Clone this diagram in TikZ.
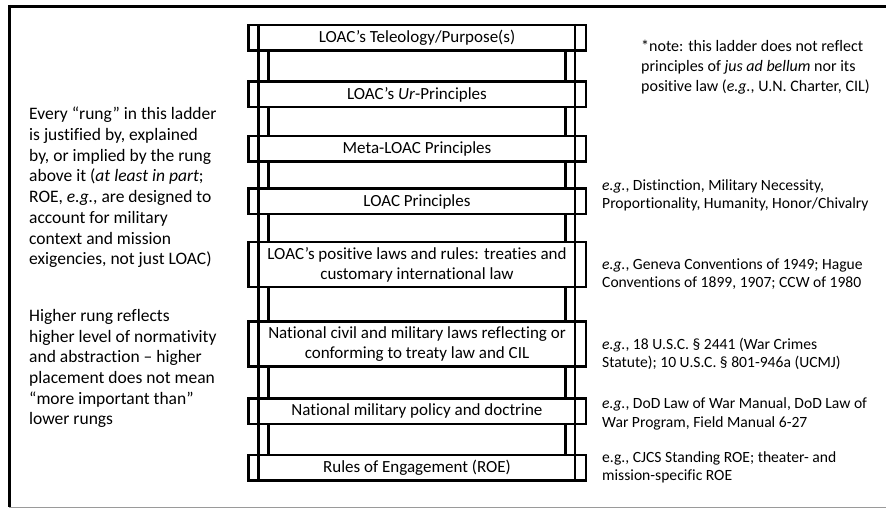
\documentclass[tikz,border=0pt]{standalone}
\usepackage{fontspec}
\setmainfont{Carlito}[Ligatures=NoCommon]
\usepackage{xcolor}
\definecolor{frame-gray}{HTML}{9A9A9A}

\begin{document}
\begin{tikzpicture}[x=1pt, y=-1pt,
    rung/.style={draw, line width=2.5pt, fill=white, minimum width=337.5pt,
        minimum height=25.5pt, inner sep=0pt, align=center,
        font=\fontsize{17}{20}\selectfont},
    tallrung/.style={rung, minimum height=45pt},
    rail/.style={line width=2.5pt},
    side/.style={inner sep=0pt, anchor=west, align=left,
        font=\fontsize{17.5}{20.7}\selectfont},
    example/.style={inner sep=0pt, anchor=west, align=left,
        font=\fontsize{15.6}{18.3}\selectfont}]
  \useasboundingbox (0,0) rectangle (886,510);
  % frame
  \draw[line width=3pt] (9,6.5) -- (886,6.5);
  \draw[line width=3pt] (9,5) -- (9,507);
  \draw[frame-gray, line width=1.5pt] (9,507.5) -- (886,507.5);
  % rungs, top to bottom
  \node[rung] (telos) at (417,38) {LOAC’s Teleology/Purpose(s)};
  \node[rung] (ur) at (417,94.5) {LOAC’s \textit{Ur}-Principles};
  \node[rung] (meta) at (417,149) {Meta-LOAC Principles};
  \node[rung] (princ) at (417,201.5) {LOAC Principles};
  \node[tallrung] (posit) at (417,264.5) {LOAC’s positive laws and rules: treaties and\\customary international law};
  \node[tallrung] (natl) at (417,344) {National civil and military laws reflecting or\\conforming to treaty law and CIL};
  \node[rung] (policy) at (417,411) {National military policy and doctrine};
  \node[rung] (roe) at (417,467.5) {Rules of Engagement (ROE)};
  % inner rails, only between rungs
  \foreach \a/\b in {telos/ur, ur/meta, meta/princ, princ/posit,
                     posit/natl, natl/policy, policy/roe}{
    \draw[rail] ([xshift=21.5pt]\a.south west) -- ([xshift=21.5pt]\b.north west);
    \draw[rail] ([xshift=-21.5pt]\a.south east) -- ([xshift=-21.5pt]\b.north east);
  }
  % outer rails, through every rung
  \draw[rail] ([xshift=11.5pt]telos.north west) -- ([xshift=11.5pt]roe.south west);
  \draw[rail] ([xshift=-12pt]telos.north east) -- ([xshift=-12pt]roe.south east);
  % left remarks
  \node[side] (why) at (29,187.5) {Every “rung” in this ladder\\is justified by, explained\\by, or implied by the rung\\above it (\textit{at least in part};\\ROE, \textit{e.g.}, are designed to\\account for military\\context and mission\\exigencies, not just LOAC)};
  \node[side] (rank) at (29,368.5) {Higher rung reflects\\higher level of normativity\\and abstraction – higher\\placement does not mean\\“more important than”\\lower rungs};
  % note, top right
  \node[side, font=\fontsize{16}{20}\selectfont] (note) at (641,67) {*note: this ladder does not reflect\\principles of \textit{jus ad bellum} nor its\\positive law (\textit{e.g.}, U.N. Charter, CIL)};
  % examples beside the rungs
  \node[example] (exprinc) at (602,195) {\textit{e.g.}, Distinction, Military Necessity,\\Proportionality, Humanity, Honor/Chivalry};
  \node[example] (exposit) at (602,274) {\textit{e.g.}, Geneva Conventions of 1949; Hague\\Conventions of 1899, 1907; CCW of 1980};
  \node[example] (exnatl) at (602,354) {\textit{e.g.}, 18 U.S.C. § 2441 (War Crimes\\Statute); 10 U.S.C. § 801-946a (UCMJ)};
  \node[example] (expolicy) at (602,414) {\textit{e.g.}, DoD Law of War Manual, DoD Law of\\War Program, Field Manual 6-27};
  \node[example] (exroe) at (602,467.5) {e.g., CJCS Standing ROE; theater- and\\mission-specific ROE};
\end{tikzpicture}
\end{document}
